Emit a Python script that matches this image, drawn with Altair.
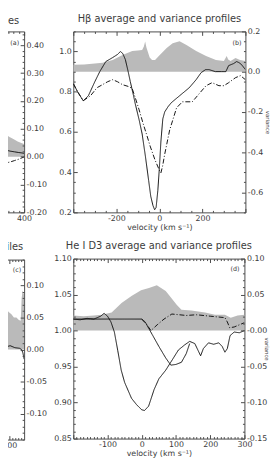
import altair as alt
import pandas as pd

# ---------------- panel (a): right-hand sliver of the cropped left panel ----------------
a_var_v = [295, 310, 330, 350, 370, 390, 400]
a_var   = [0.085, 0.080, 0.072, 0.064, 0.055, 0.048, 0.046]
a_avg_v = [295, 315, 335, 355, 375, 390, 400]
a_avg   = [1.045, 1.048, 1.040, 1.035, 1.030, 1.027, 1.024]
a_dd_v  = [295, 315, 335, 355, 375, 390, 400]
a_dd    = [0.950, 0.955, 0.962, 0.972, 0.982, 0.992, 0.998]

# ---------------- panel (b): H-beta ----------------
b_var_v = [-400, -350, -300, -263, -217, -171, -126, -100, -80, -72, -66, -60, -45, -34, -20,
           2, 34, 62, 94, 126, 171, 217, 263, 300, 313, 320, 331, 354, 375, 400]
b_var   = [0.034, 0.036, 0.040, 0.044, 0.058, 0.083, 0.102, 0.105, 0.107, 0.125, 0.150, 0.120,
           0.070, 0.058, 0.058, 0.083, 0.117, 0.141, 0.151, 0.132, 0.102, 0.078, 0.058, 0.053,
           0.078, 0.060, 0.053, 0.068, 0.058, 0.053]
b_avg_v = [-400, -380, -354, -330, -300, -277, -249, -217, -195, -181, -170, -158, -145, -135,
           -120, -112, -94, -80, -65, -50, -40, -30, -22, -15, -7, 0, 7, 16, 25, 40, 55, 94,
           139, 171, 194, 215, 231, 260, 290, 309, 322, 345, 359, 370, 382, 400]
b_avg   = [0.84, 0.80, 0.755, 0.78, 0.85, 0.90, 0.95, 0.97, 0.985, 1.0, 0.99, 0.96, 0.90, 0.85,
           0.78, 0.74, 0.66, 0.59, 0.48, 0.36, 0.28, 0.235, 0.213, 0.225, 0.31, 0.42, 0.55,
           0.665, 0.70, 0.725, 0.745, 0.78, 0.82, 0.86, 0.895, 0.91, 0.91, 0.90, 0.90, 0.90,
           0.93, 0.94, 0.95, 0.945, 0.935, 0.91]
b_dd_v  = [-400, -380, -354, -320, -290, -263, -240, -217, -195, -171, -140, -126, -112, -94,
           -75, -60, -43, -20, 0, 7, 15, 25, 48, 80, 107, 153, 185, 217, 245, 277, 300, 322,
           354, 377, 400]
b_dd    = [0.84, 0.80, 0.755, 0.78, 0.82, 0.836, 0.85, 0.86, 0.85, 0.835, 0.825, 0.815, 0.77,
           0.71, 0.64, 0.59, 0.53, 0.46, 0.41, 0.396, 0.43, 0.49, 0.61, 0.72, 0.75, 0.75, 0.79,
           0.83, 0.845, 0.83, 0.83, 0.845, 0.87, 0.88, 0.86]

# ---------------- panel (c): right-hand sliver of the cropped lower-left panel ----------------
c_var_v = [275, 283, 291, 299, 307, 315, 323, 331, 337, 340, 343, 348]
c_var   = [0.065, 0.068, 0.062, 0.058, 0.055, 0.050, 0.050, 0.046, 0.045, 0.080, 0.092, 0.085]
c_avg_v = [275, 288, 303, 318, 333, 340, 344, 348]
c_avg   = [1.005, 1.004, 1.006, 1.003, 1.002, 1.000, 0.995, 0.985]

# ---------------- panel (d): He I D3 ----------------
d_var_v = [-200, -170, -140, -117, -88, -59, -30, -2, 21, 44, 70, 87, 102, 116, 145, 185, 214,
           243, 260, 280, 300]
d_var   = [0.021, 0.020, 0.021, 0.022, 0.025, 0.0385, 0.048, 0.056, 0.059, 0.063, 0.055, 0.045,
           0.036, 0.029, 0.028, 0.025, 0.022, 0.022, 0.018, 0.021, 0.022]
d_avg_v = [-200, -180, -160, -140, -120, -110, -100, -90, -80, -70, -60, -50, -30, -15, 0, 8,
           20, 36, 50, 70, 90, 107, 125, 140, 155, 165, 172, 180, 195, 210, 225, 235, 243, 250,
           258, 270, 285, 300]
d_avg   = [1.016, 1.015, 1.017, 1.016, 1.020, 1.024, 1.020, 1.012, 0.998, 0.972, 0.945, 0.928,
           0.906, 0.897, 0.890, 0.889, 0.895, 0.918, 0.933, 0.945, 0.960, 0.973, 0.980, 0.985,
           0.982, 0.972, 0.965, 0.975, 0.983, 0.981, 0.983, 0.978, 0.970, 0.975, 0.993, 0.998,
           0.997, 1.000]
d_dda_v = [-200, -150, -100, -50, 0, 10, 30, 50, 70, 85, 100, 116, 130, 140]
d_dda   = [1.016, 1.016, 1.016, 1.016, 1.016, 1.012, 0.995, 0.978, 0.962, 0.952, 0.953, 0.956,
           0.968, 0.982]
d_ddb_v = [0, 15, 27, 45, 65, 88, 110, 130, 160, 200, 243, 250, 257, 270, 285, 300]
d_ddb   = [1.016, 1.008, 1.000, 1.008, 1.016, 1.023, 1.022, 1.021, 1.022, 1.020, 1.018, 1.012,
           1.004, 1.005, 1.008, 1.011]

# ---------------- tick values / texts ----------------
a_xticks = [300, 325, 350, 375, 400]
a_rticks = [i / 100 for i in range(-20, 45, 2)]
b_xticks = list(range(-400, 401, 50))
b_lticks = [i / 100 for i in range(20, 111, 5)]
b_rticks = [i / 100 for i in range(-70, 21, 5)]
c_xticks = list(range(280, 341, 10))
c_rticks = [i / 100 for i in range(-14, 15, 1)]
d_xticks = list(range(-200, 301, 10))
d_lticks = [i / 100 for i in range(85, 111, 1)]
d_rticks = [i / 100 for i in range(-15, 11, 1)]

titles = ["files", "H\u03b2 average and variance profiles",
          "ofiles", "He I D3 average and variance profiles"]
panel_tags = ["(a)", "(b)", "(c)", "(d)"]
x_title = "velocity (km s\u207b\u00b9)"
var_title = "variance"

FONT = "DejaVu Sans"
TXT = "#3c3c3c"
LINE = "#141414"
GRAY = "#bababa"
FRAME = "#4a4a4a"
L, l = 4, 2
DASHDOT = [5, 2, 1, 2]


def fmt(spec):
    return "replace(format(datum.value, '" + spec + "'), '\u2212', '-')"


def tick_dash(minor_test):
    return {"condition": {"test": minor_test, "value": [0, L - l, l]}, "value": []}


def lines_df(series):
    rows = []
    for name, vs, ys in series:
        for v, y in zip(vs, ys):
            rows.append({"v": v, "val": y, "series": name})
    return pd.DataFrame(rows)


def panel(idx, W, H, xdom, xt, x_minor, x_lab, show_xtitle,
          ldom, lt, l_minor, l_lab, rdom, rt, r_minor, r_lab, show_rtitle,
          var_v, var, series, title_dx, tag_dx, tag_y):
    xscale = alt.Scale(domain=xdom, nice=False, zero=False)
    ax_top = alt.Axis(orient="top", values=xt, labels=False, tickSize=L, offset=-L,
                      domain=False, grid=False, tickDash=tick_dash(x_minor), title=None,
                      zindex=1)
    ax_bottom_kw = dict(orient="bottom", values=xt, labelExpr=x_lab, tickSize=L, offset=-L,
                        domain=False, grid=False, tickDash=tick_dash(x_minor), labelPadding=2,
                        labelFlush=False, labelOverlap=False, zindex=1)
    if show_xtitle:
        ax_bottom = alt.Axis(title=x_title, titlePadding=1, **ax_bottom_kw)
    else:
        ax_bottom = alt.Axis(title=None, **ax_bottom_kw)
    r_kw = dict(orient="right", values=rt, labelExpr=r_lab, tickSize=L, offset=-L,
                domain=False, grid=False, tickDash=tick_dash(r_minor), labelPadding=2,
                labelFlush=False, labelOverlap=False, zindex=1)
    if show_rtitle:
        ax_right = alt.Axis(title=var_title, titleX=23, titleY=H / 2, titleAngle=90,
                            titleBaseline="bottom", titleAlign="center", titleFontSize=5.5,
                            **r_kw)
    else:
        ax_right = alt.Axis(title=None, **r_kw)
    if lt is not None:
        ax_left = alt.Axis(orient="left", values=lt, labelExpr=l_lab, tickSize=L, offset=-L,
                           domain=False, grid=False, tickDash=tick_dash(l_minor),
                           labelPadding=2, labelFlush=False, labelOverlap=False, title=None,
                           zindex=1)
    else:
        ax_left = None

    area = alt.Chart(pd.DataFrame({"v": var_v, "var": var})).mark_area(
        color=GRAY, clip=True).encode(
        x=alt.X("v:Q", scale=xscale, axis=ax_top),
        y=alt.Y("var:Q", scale=alt.Scale(domain=rdom, nice=False, zero=False), axis=ax_right),
        y2=alt.datum(0),
    )
    ldf = lines_df(series)
    names = [s[0] for s in series]
    dashes = [[1, 0] if n == "average" else DASHDOT for n in names]
    lines = alt.Chart(ldf).mark_line(color=LINE, strokeWidth=1, clip=True).encode(
        x=alt.X("v:Q", scale=xscale, axis=ax_bottom),
        y=alt.Y("val:Q", scale=alt.Scale(domain=ldom, nice=False, zero=False), axis=ax_left),
        strokeDash=alt.StrokeDash("series:N", scale=alt.Scale(domain=names, range=dashes),
                                  legend=None),
        detail="series:N",
    )
    tag = alt.Chart(pd.DataFrame({"t": [panel_tags[idx]]})).mark_text(
        align="right", baseline="alphabetic", font=FONT, fontSize=6.5, color=TXT).encode(
        x=alt.value(W - tag_dx), y=alt.value(tag_y), text="t:N")
    anchor = "end" if W < 50 else "middle"
    return alt.layer(area, lines, tag).resolve_scale(y="independent").properties(
        width=W, height=H,
        title=alt.TitleParams(titles[idx], anchor=anchor, frame="group", dx=title_dx,
                              offset=4))


HB, HD = 184, 183

pa = panel(0, 23, HB, [295, 400], a_xticks, "datum.value % 100 != 0",
           "datum.value % 200 == 0 ? " + fmt("d") + " : ''", False,
           [0.6, 1.9], None, "", "",
           [-0.2, 0.45], a_rticks, "abs(round(datum.value*100)) % 10 != 0",
           "abs(round(datum.value*100)) % 10 == 0 ? " + fmt(".2f") + " : ''", False,
           a_var_v, a_var,
           [("average", a_avg_v, a_avg), ("dashdot", a_dd_v, a_dd)],
           -5, 5, 14)

pb = panel(1, 175, HB, [-400, 400], b_xticks, "datum.value % 200 != 0",
           "datum.value % 200 == 0 && abs(datum.value) < 400 ? " + fmt("d") + " : ''",
           True,
           [0.2, 1.1], b_lticks, "abs(round(datum.value*100)) % 20 != 0",
           "abs(round(datum.value*100)) % 20 == 0 ? " + fmt(".1f") + " : ''",
           [-0.7, 0.2], b_rticks, "abs(round(datum.value*100)) % 20 != 0",
           "abs(round(datum.value*100)) % 20 == 0 ? " + fmt(".1f") + " : ''", True,
           b_var_v, b_var,
           [("average", b_avg_v, b_avg), ("dashdot", b_dd_v, b_dd)],
           0, 4, 14)

pc = panel(2, 23, HD, [275, 348], c_xticks, "datum.value % 100 != 0",
           "datum.value % 100 == 0 ? " + fmt("d") + " : ''", False,
           [0.86, 1.14], None, "", "",
           [-0.14, 0.14], c_rticks, "abs(round(datum.value*100)) % 5 != 0",
           "abs(round(datum.value*100)) % 5 == 0 ? " + fmt(".2f") + " : ''", False,
           c_var_v, c_var,
           [("average", c_avg_v, c_avg)],
           -1, 3, 13)

pd_ = panel(3, 174, HD, [-200, 300], d_xticks, "datum.value % 100 != 0",
            "datum.value % 100 == 0 && datum.value > -200 ? " + fmt("d") + " : ''",
            True,
            [0.85, 1.10], d_lticks, "abs(round(datum.value*100)) % 5 != 0",
            "abs(round(datum.value*100)) % 5 == 0 ? " + fmt(".2f") + " : ''",
            [-0.15, 0.10], d_rticks, "abs(round(datum.value*100)) % 5 != 0",
            "datum.value == 0 ? '-0.00' : (abs(round(datum.value*100)) % 5 == 0 ? "
            + fmt(".2f") + " : '')",
            True,
            d_var_v, d_var,
            [("average", d_avg_v, d_avg), ("dashA", d_dda_v, d_dda), ("dashB", d_ddb_v, d_ddb)],
            0, 5, 13)

col1 = alt.vconcat(pa, pc, spacing=18)
col2 = alt.vconcat(pb, pd_, spacing=8)
chart = alt.hconcat(col1, col2, spacing=5).properties(
    padding={"left": -12.6, "top": 1, "right": 0, "bottom": 0}
).configure_view(stroke=FRAME, strokeWidth=1).configure_axis(
    labelFont=FONT, labelFontSize=8, labelColor=TXT,
    tickColor=FRAME, tickWidth=1,
    titleFont=FONT, titleFontSize=8, titleFontWeight="normal", titleColor=TXT,
).configure_title(font=FONT, fontSize=10, fontWeight="normal", color=TXT)

chart.save("out.html", embed_options={"renderer": "svg", "actions": False})
